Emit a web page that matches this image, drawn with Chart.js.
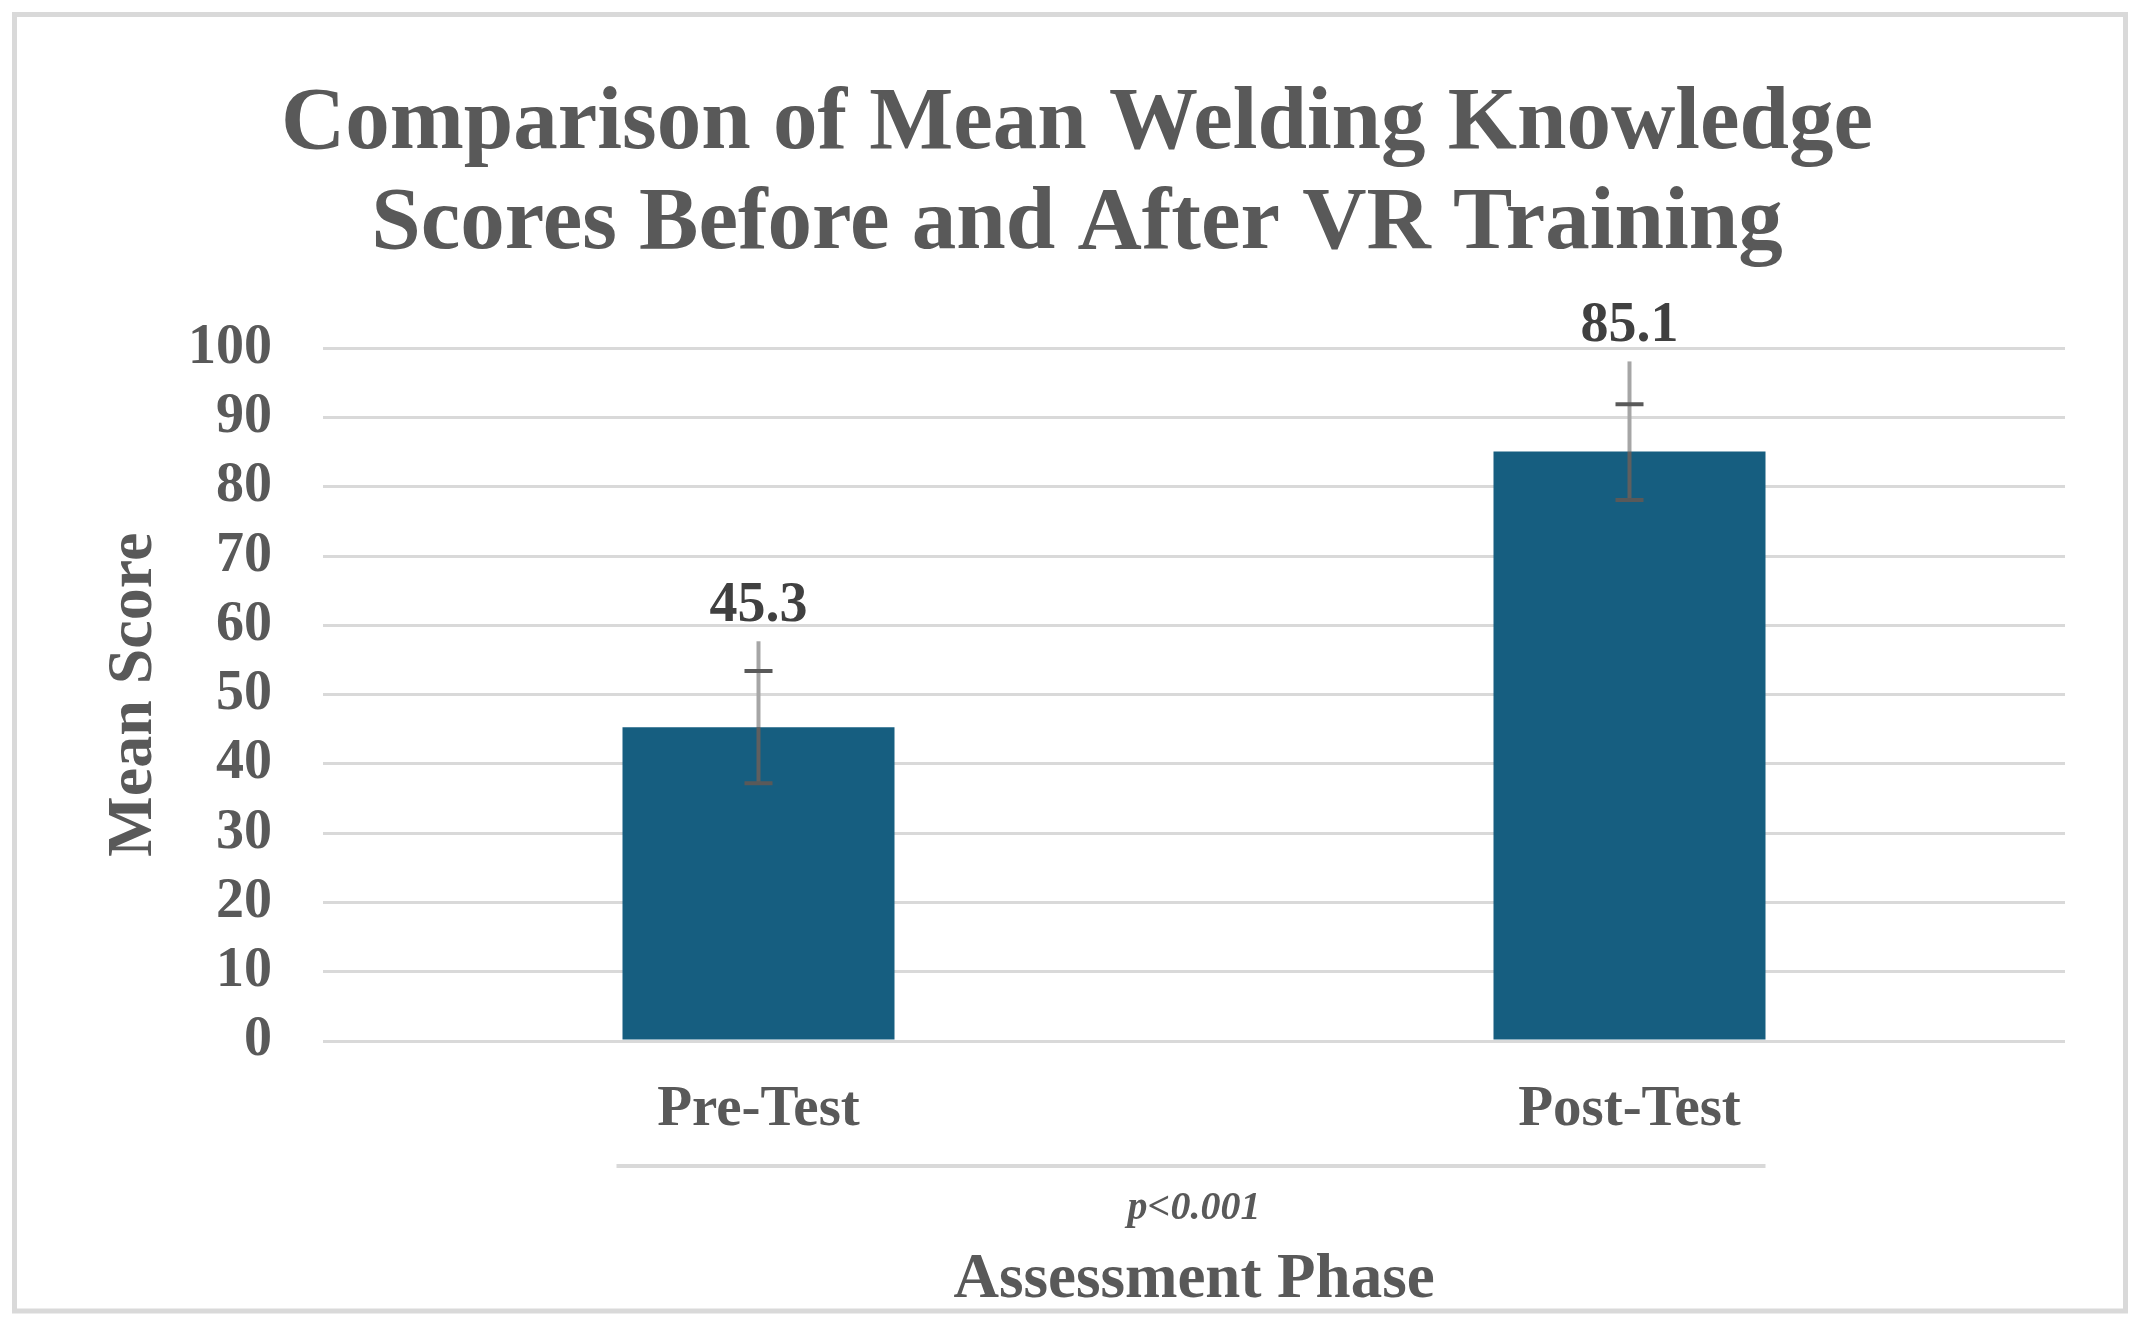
<!DOCTYPE html>
<html>
<head>
<meta charset="utf-8">
<script src="https://cdn.jsdelivr.net/npm/chart.js@4"></script>
<style>
  html, body { margin: 0; padding: 0; background: #ffffff; }
  canvas { display: block; }
</style>
</head>
<body>
<canvas id="c" width="2147" height="1326"></canvas>
<script>
// ---- data ----
const categories = ['Pre-Test', 'Post-Test'];
const meanScores = [45.3, 85.1];
const errLow = [37.2, 78.1];       // lower cap
const errHigh = [53.4, 91.9];      // upper cap
const errLineTop = [57.7, 98.1];   // top end of the whisker line
const yTickValues = [0, 10, 20, 30, 40, 50, 60, 70, 80, 90, 100];
const titleLines = ['Comparison of Mean Welding Knowledge', 'Scores Before and After VR Training'];
const yAxisTitle = 'Mean Score';
const xAxisTitle = 'Assessment Phase';
const significanceNote = 'p<0.001';

const FONT = '"Liberation Serif", "Times New Roman", serif';
const GRID = '#d9d9d9';
const TEXT = '#595959';

const decorPlugin = {
  id: 'decor',
  beforeDraw(chart) {
    const ctx = chart.ctx;
    ctx.save();
    ctx.fillStyle = '#ffffff';
    ctx.fillRect(0, 0, chart.width, chart.height);
    ctx.strokeStyle = GRID;
    ctx.lineWidth = 5;
    ctx.strokeRect(14.5, 14.5, chart.width - 2 * 14.5 - 7, chart.height - 14.5 - 15);
    ctx.restore();
  },
  afterDatasetsDraw(chart) {
    const ctx = chart.ctx;
    const y = chart.scales.y;
    const meta = chart.getDatasetMeta(0);
    ctx.save();
    meta.data.forEach((bar, i) => {
      const x = bar.x;
      const pTop = y.getPixelForValue(meanScores[i]);
      const pLow = y.getPixelForValue(errLow[i]);
      const pHigh = y.getPixelForValue(errHigh[i]);
      const pLine = y.getPixelForValue(errLineTop[i]);
      ctx.lineWidth = 4;
      // light whisker above bar
      ctx.strokeStyle = '#a6a6a6';
      ctx.beginPath(); ctx.moveTo(x, pTop); ctx.lineTo(x, pLine); ctx.stroke();
      // dark whisker inside bar
      ctx.strokeStyle = '#5f5f5f';
      ctx.beginPath(); ctx.moveTo(x, pTop); ctx.lineTo(x, pLow); ctx.stroke();
      // caps
      ctx.strokeStyle = '#595959';
      ctx.beginPath();
      ctx.moveTo(x - 14, pLow); ctx.lineTo(x + 14, pLow);
      ctx.moveTo(x - 14, pHigh); ctx.lineTo(x + 14, pHigh);
      ctx.stroke();
      // value label
      ctx.fillStyle = '#404040';
      ctx.font = 'bold 56px ' + FONT;
      ctx.textAlign = 'center';
      ctx.textBaseline = 'alphabetic';
      ctx.fillText(meanScores[i].toFixed(1), x, pLine - 20);
    });
    // separator line under the category labels
    const b0 = meta.data[0], b1 = meta.data[meta.data.length - 1];
    ctx.strokeStyle = GRID;
    ctx.lineWidth = 4;
    ctx.beginPath();
    ctx.moveTo(b0.x - b0.width / 2 - 6, 1166);
    ctx.lineTo(b1.x + b1.width / 2, 1166);
    ctx.stroke();
    // significance note
    const ca = chart.chartArea;
    ctx.fillStyle = TEXT;
    ctx.font = 'italic bold 40px ' + FONT;
    ctx.textAlign = 'center';
    ctx.textBaseline = 'middle';
    ctx.fillText(significanceNote, (ca.left + ca.right) / 2, 1209);
    ctx.restore();
  }
};

new Chart(document.getElementById('c'), {
  type: 'bar',
  data: {
    labels: categories,
    datasets: [{
      data: meanScores,
      backgroundColor: '#165e80',
      borderWidth: 0,
      categoryPercentage: 1.0,
      barPercentage: 0.3123
    }]
  },
  options: {
    responsive: false,
    devicePixelRatio: 1,
    animation: false,
    layout: { padding: { left: 7, right: 0, top: 0, bottom: 0 } },
    plugins: {
      legend: { display: false },
      tooltip: { enabled: false },
      title: {
        display: true,
        text: titleLines,
        color: TEXT,
        font: { family: FONT, size: 89, weight: 'bold', lineHeight: 1.125 },
        padding: { top: 75, bottom: 73 }
      }
    },
    scales: {
      x: {
        grid: { display: false, drawTicks: false },
        border: { display: false },
        ticks: {
          color: TEXT,
          padding: 41,
          font: { family: FONT, size: 57, weight: 'bold', lineHeight: 1 }
        },
        title: {
          display: true,
          text: xAxisTitle,
          color: TEXT,
          font: { family: FONT, size: 63, weight: 'bold', lineHeight: 1 },
          padding: { top: 0, bottom: 14 }
        },
        afterFit(s) { s.height = 285; }
      },
      y: {
        min: 0,
        max: 100,
        afterBuildTicks(s) { s.ticks = yTickValues.map(v => ({ value: v })); },
        grid: { color: GRID, lineWidth: 3, drawTicks: false },
        border: { display: false },
        ticks: {
          color: TEXT,
          padding: 51,
          font: { family: FONT, size: 56, weight: 'bold', lineHeight: 1 }
        },
        title: {
          display: true,
          text: yAxisTitle,
          color: TEXT,
          font: { family: FONT, size: 64, weight: 'bold', lineHeight: 1 },
          padding: { top: 95.5, bottom: 0 }
        },
        afterFit(s) { s.width = 316; }
      },
      y2: {
        type: 'linear',
        position: 'right',
        display: true,
        grid: { display: false, drawTicks: false },
        border: { display: false },
        ticks: { display: false },
        afterFit(s) { s.width = 82; }
      }
    }
  },
  plugins: [decorPlugin]
});
</script>
</body>
</html>
